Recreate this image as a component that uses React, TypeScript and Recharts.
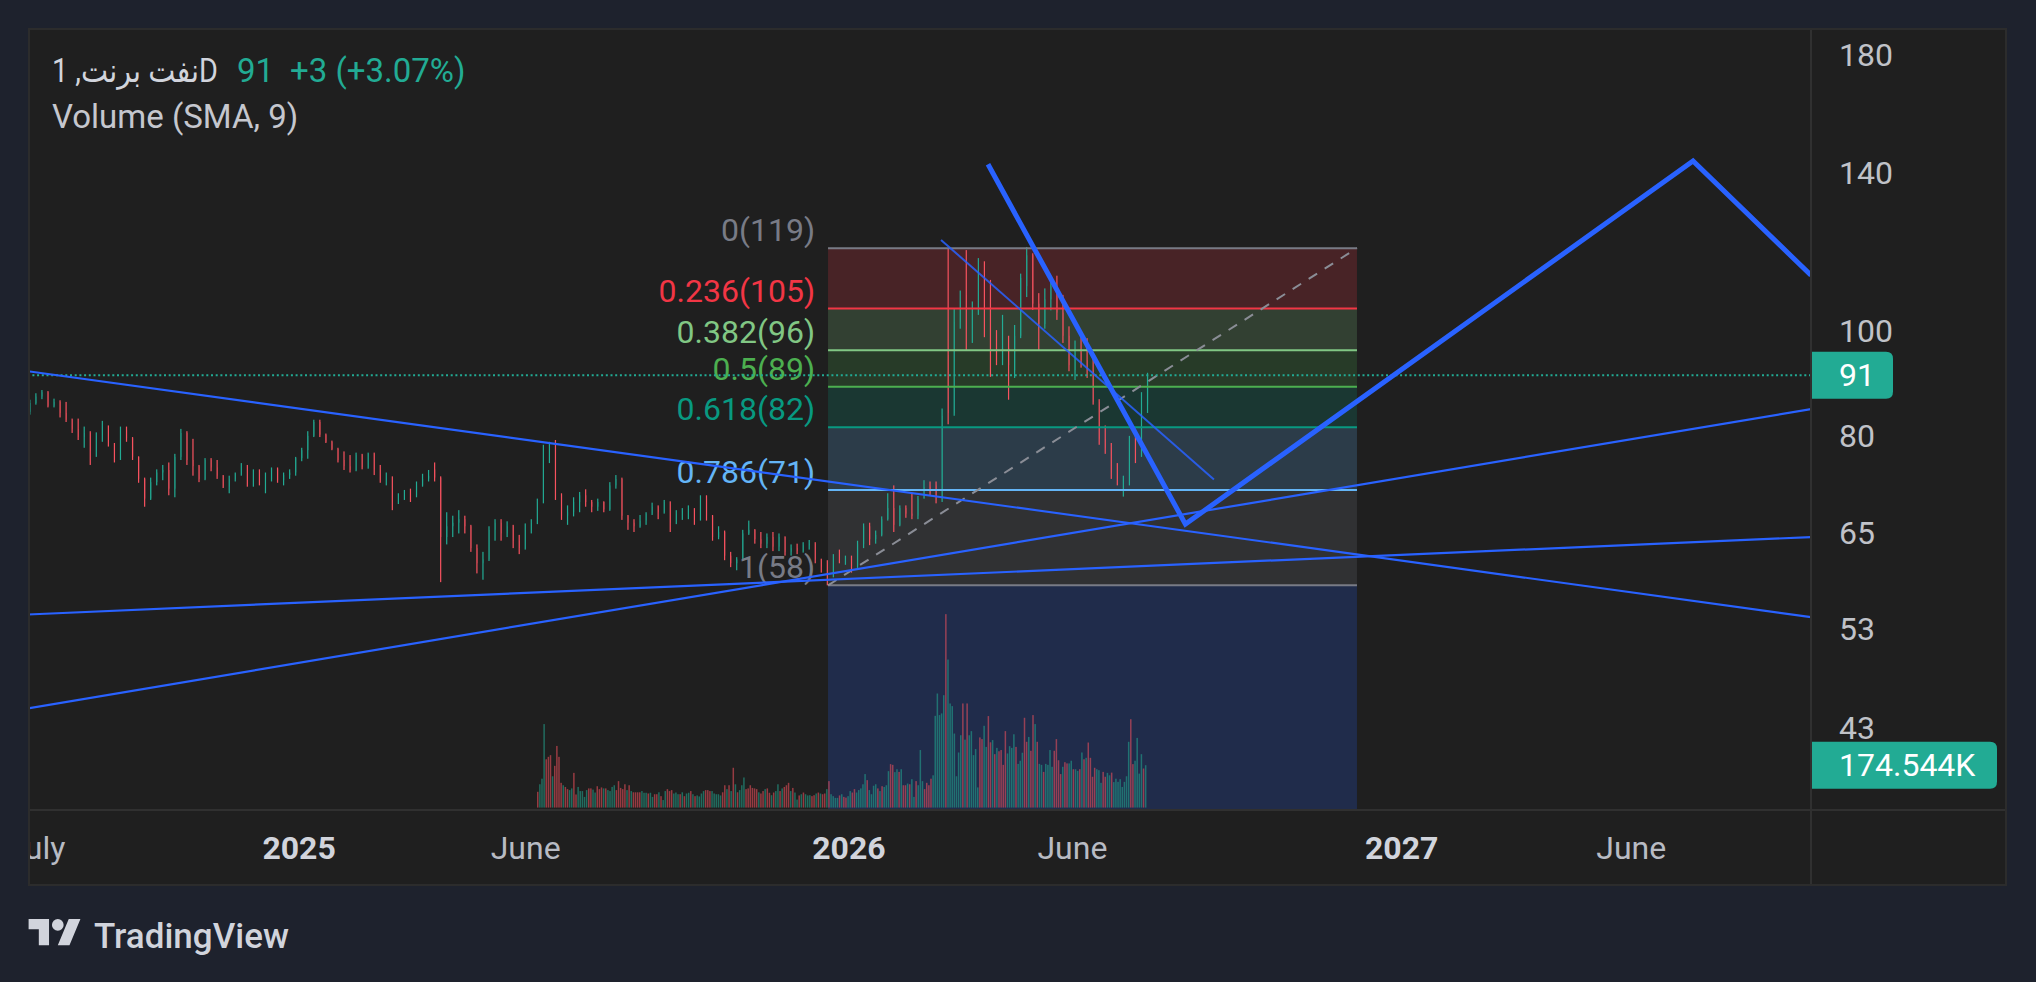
import React from 'react'
import { ComposedChart, Bar, Line, XAxis, YAxis, CartesianGrid, ReferenceArea, ReferenceLine } from 'recharts'

// x values are days counted from 1 Jan 2025
const candleStart = -178
const candleStep = 4

const opens = [
  84.2, 85.8, 87.0, 87.8, 85.3, 86.0, 84.0, 82.8, 81.2, 79.8,
  80.5, 77.5, 80.0, 81.5, 78.6, 76.2, 81.0, 79.6, 76.5, 73.0,
  70.0, 72.5, 74.0, 74.4, 71.5, 76.5, 80.5, 76.0, 75.0, 73.0,
  76.0, 74.8, 73.5, 71.8, 73.0, 73.8, 75.0, 72.2, 74.0, 72.4,
  73.0, 74.6, 72.8, 73.6, 74.0, 76.3, 77.6, 80.0, 82.4, 80.2,
  79.0, 77.8, 76.0, 75.0, 74.4, 76.8, 74.8, 77.0, 74.5, 72.8,
  73.2, 69.5, 70.6, 71.0, 70.5, 72.0, 73.0, 74.5, 73.2, 64.5,
  66.0, 66.5, 67.0, 66.0, 63.0, 61.0, 61.5, 65.5, 66.5, 65.0,
  66.0, 64.0, 63.0, 65.5, 66.5, 69.5, 76.5, 77.0, 70.5, 67.5,
  68.0, 69.5, 70.5, 69.5, 68.8, 69.5, 68.4, 72.0, 73.0, 67.5,
  66.5, 66.0, 66.8, 67.8, 68.8, 68.0, 69.5, 66.5, 67.8, 68.2,
  68.5, 67.0, 70.0, 67.5, 64.5, 65.2, 62.0, 61.0, 61.5, 65.0,
  65.5, 64.2, 63.6, 64.5, 63.2, 64.5, 62.5, 63.0, 62.6, 63.4,
  63.6, 61.5, 61.0, 59.3, 61.8, 61.3, 61.6, 60.6, 63.5, 66.0,
  64.2, 64.8, 67.0, 68.6, 66.2, 68.6, 67.8, 67.5, 70.0, 71.8,
  72.0, 70.0, 95.0, 84.0, 102.0, 108.0, 100.5, 104.0, 115.0, 108.0,
  96.0, 94.0, 96.5, 92.0, 99.0, 110.0, 117.5, 106.0, 101.5, 107.0,
  110.0, 104.0, 99.0, 92.0, 95.5, 94.0, 92.0, 86.0, 79.5, 78.0,
  74.0, 71.5, 72.6, 79.5, 77.0, 85.5,
]

const highs = [
  86.4, 87.6, 88.2, 88.0, 86.6, 86.3, 86.0, 83.0, 83.0, 81.6,
  80.8, 80.6, 82.6, 81.8, 78.8, 81.6, 81.6, 79.8, 76.6, 73.2,
  73.2, 74.5, 75.2, 75.6, 77.0, 81.2, 80.8, 79.5, 75.2, 76.3,
  76.3, 76.0, 73.6, 73.5, 74.0, 75.5, 75.2, 74.5, 74.5, 74.0,
  74.8, 74.8, 74.0, 74.5, 76.5, 78.0, 80.8, 82.8, 82.8, 80.4,
  79.2, 78.0, 77.4, 76.8, 77.2, 77.0, 77.2, 77.2, 75.2, 74.0,
  73.4, 70.8, 71.3, 71.5, 72.6, 73.8, 74.4, 75.6, 73.4, 68.0,
  67.5, 68.3, 67.5, 66.2, 63.5, 62.5, 66.0, 67.0, 67.0, 66.7,
  66.2, 64.8, 66.4, 67.0, 70.0, 78.5, 79.0, 79.3, 70.8, 69.0,
  70.2, 71.0, 71.4, 69.8, 70.0, 69.6, 72.5, 73.6, 73.2, 67.6,
  67.0, 67.6, 68.0, 69.4, 69.0, 69.8, 69.6, 68.3, 68.6, 69.0,
  68.6, 70.5, 70.5, 67.6, 66.0, 65.4, 62.5, 61.8, 65.5, 66.8,
  65.6, 65.2, 65.0, 65.2, 65.0, 64.6, 63.5, 63.6, 63.8, 64.1,
  63.8, 61.6, 61.4, 62.2, 62.8, 62.0, 62.0, 64.0, 66.4, 66.5,
  65.4, 67.4, 70.8, 72.0, 69.0, 69.0, 70.8, 70.4, 72.8, 72.6,
  72.6, 84.8, 119.3, 105.0, 109.0, 118.8, 106.5, 116.8, 116.0, 111.5,
  100.2, 103.5, 99.0, 101.3, 113.0, 119.6, 118.0, 108.4, 109.5, 111.0,
  112.5, 108.0, 101.0, 98.0, 99.0, 98.5, 95.0, 86.5, 81.8, 78.8,
  75.5, 73.5, 80.0, 81.2, 87.8, 91.5,
]

const lows = [
  83.7, 85.5, 86.5, 85.0, 85.0, 83.2, 82.4, 80.5, 79.3, 78.0,
  75.2, 76.5, 79.0, 78.2, 75.6, 76.0, 79.0, 76.0, 72.4, 68.8,
  69.8, 72.0, 72.8, 70.5, 70.2, 76.0, 75.2, 73.5, 72.5, 72.8,
  74.2, 73.0, 71.6, 70.8, 72.6, 73.5, 71.8, 71.8, 72.0, 70.8,
  72.6, 72.4, 72.0, 73.0, 73.5, 75.8, 76.2, 79.8, 79.8, 78.8,
  77.6, 75.6, 74.4, 74.0, 74.2, 74.5, 74.6, 73.6, 72.4, 72.0,
  68.3, 69.2, 69.8, 69.5, 70.2, 71.8, 72.6, 72.6, 58.6, 63.5,
  64.5, 65.0, 65.0, 62.5, 59.7, 58.9, 61.3, 64.0, 64.0, 64.5,
  63.0, 62.2, 62.8, 65.0, 66.3, 69.3, 75.5, 69.8, 66.9, 66.2,
  67.4, 68.0, 68.8, 68.0, 68.2, 68.0, 68.2, 71.5, 66.9, 65.5,
  65.2, 65.8, 66.2, 67.6, 67.0, 67.8, 65.2, 66.3, 66.9, 67.0,
  66.2, 66.8, 66.8, 64.0, 64.2, 61.4, 60.5, 60.1, 61.3, 64.8,
  63.6, 63.0, 63.0, 62.6, 62.6, 62.0, 62.0, 62.2, 62.4, 62.8,
  61.0, 59.8, 58.2, 59.2, 61.0, 60.8, 59.8, 60.4, 63.0, 63.4,
  63.6, 64.6, 66.8, 65.2, 66.0, 67.2, 67.0, 67.0, 70.0, 70.5,
  69.3, 69.5, 82.0, 83.5, 100.5, 96.0, 97.5, 103.5, 98.7, 90.7,
  93.0, 93.0, 86.4, 90.5, 98.5, 107.5, 104.6, 96.0, 100.5, 104.5,
  102.4, 97.5, 91.8, 90.1, 92.5, 90.5, 85.5, 78.5, 77.0, 73.0,
  72.0, 70.3, 72.0, 75.5, 76.5, 84.0,
]

const closes = [
  85.8, 87.0, 87.8, 85.3, 86.0, 84.0, 82.8, 81.2, 79.8, 80.5,
  77.5, 80.0, 81.5, 78.6, 76.2, 81.0, 79.6, 76.5, 73.0, 70.0,
  72.5, 74.0, 74.4, 71.5, 76.5, 80.5, 76.0, 75.0, 73.0, 76.0,
  74.8, 73.5, 71.8, 73.0, 73.8, 75.0, 72.2, 74.0, 72.4, 73.0,
  74.6, 72.8, 73.6, 74.0, 76.3, 77.6, 80.0, 82.4, 80.2, 79.0,
  77.8, 76.0, 75.0, 74.4, 76.8, 74.8, 77.0, 74.5, 72.8, 73.2,
  69.5, 70.6, 71.0, 70.5, 72.0, 73.0, 73.5, 73.2, 64.5, 66.0,
  66.5, 67.0, 66.0, 63.0, 61.0, 61.5, 65.5, 66.5, 65.0, 66.0,
  64.0, 63.0, 65.5, 66.5, 69.5, 76.5, 77.0, 70.5, 67.5, 68.0,
  69.5, 70.5, 69.5, 68.8, 69.5, 68.4, 72.0, 73.0, 67.5, 66.5,
  66.0, 66.8, 67.8, 68.8, 68.0, 69.5, 66.5, 67.8, 68.2, 68.5,
  67.0, 70.0, 67.5, 64.5, 65.2, 62.0, 61.0, 61.5, 65.0, 65.5,
  64.2, 63.6, 64.5, 63.2, 64.5, 62.5, 63.0, 62.6, 63.4, 63.6,
  61.5, 60.5, 59.3, 61.8, 61.3, 61.6, 60.6, 63.5, 66.0, 64.2,
  64.8, 67.0, 68.6, 66.2, 68.6, 67.8, 67.5, 70.0, 71.8, 70.8,
  70.0, 83.5, 84.0, 102.0, 106.5, 100.5, 104.0, 115.0, 103.0, 92.5,
  94.0, 96.5, 93.0, 99.0, 112.0, 117.5, 106.0, 101.5, 107.0, 110.0,
  104.0, 99.0, 93.0, 95.5, 94.0, 92.0, 86.0, 79.5, 78.0, 74.0,
  73.0, 72.6, 79.5, 77.0, 85.5, 91.0,
]

// volume (thousands) runs from mid June 2025 to the last bar
const volumeStart = 158.2
const volumeEnd = 560.7
const volumes = [
  65, 96, 119, 344, 199, 209, 216, 129, 172, 254,
  209, 102, 92, 85, 76, 72, 79, 143, 54, 85,
  68, 68, 44, 72, 79, 79, 74, 62, 88, 76,
  83, 79, 79, 72, 68, 85, 92, 72, 109, 81,
  76, 96, 72, 92, 68, 63, 63, 63, 63, 68,
  61, 61, 58, 61, 44, 55, 55, 63, 47, 31,
  68, 76, 68, 72, 58, 62, 55, 55, 63, 47,
  58, 61, 68, 55, 47, 50, 46, 58, 68, 72,
  72, 68, 68, 58, 55, 55, 50, 63, 92, 76,
  92, 68, 164, 96, 63, 72, 92, 124, 76, 79,
  92, 81, 79, 76, 63, 58, 68, 76, 79, 61,
  51, 62, 68, 96, 68, 79, 85, 92, 102, 68,
  81, 62, 33, 50, 55, 62, 55, 50, 51, 47,
  51, 58, 62, 58, 55, 58, 76, 109, 55, 47,
  40, 40, 50, 55, 44, 41, 47, 68, 62, 76,
  62, 72, 79, 96, 138, 113, 72, 55, 90, 96,
  79, 68, 88, 85, 92, 150, 179, 176, 146, 158,
  147, 158, 92, 92, 99, 96, 117, 44, 109, 92,
  237, 109, 76, 102, 92, 119, 133, 378, 470, 381,
  388, 463, 797, 610, 429, 418, 305, 129, 227, 298,
  429, 280, 429, 298, 315, 216, 241, 83, 289, 282,
  337, 250, 377, 269, 278, 220, 246, 232, 237, 176,
  315, 223, 253, 246, 302, 250, 180, 193, 226, 370,
  271, 291, 234, 381, 344, 271, 180, 176, 147, 180,
  176, 237, 168, 234, 282, 195, 138, 168, 187, 182,
  182, 193, 158, 158, 151, 158, 227, 199, 205, 268,
  205, 127, 164, 158, 154, 102, 147, 127, 143, 133,
  144, 105, 119, 106, 117, 85, 106, 129, 271, 364,
  179, 193, 287, 140, 220, 161, 174.544,
]
const volumeSides =
  'duuudddudd' + 'ddudduuddu' + 'uuuudduudd' + 'duduuuuddd' + 'ddududdddu' +
  'uuduuddudu' + 'uddduuudud' + 'uududuuuud' + 'dduuuuuddu' + 'dududuuudd' +
  'dddduddudd' + 'uduududddu' + 'duududuuud' + 'dududduduu' + 'uududduudd' +
  'uuuuuduuuu' + 'duduuudduu' + 'dudduduudu' + 'uudddduuuu' + 'uuduuuuuuu' +
  'duduuuuudd' + 'uuddududdd' + 'duuuuduuud' + 'dudduduudu' + 'uuuddddudd' +
  'uuduududud' + 'ddduuudduu' + 'duuuuuuuud' + 'duuuudu'

const timeTicks = [-174, 0, 150, 364, 512, 730, 882]
const timeLabels = ['July', '2025', 'June', '2026', 'June', '2027', 'June']
const priceTicks = [43, 53, 65, 80, 100, 140, 180]

const fibStart = 350.2
const fibEnd = 700.4
const fibRatios = ['0', '0.236', '0.382', '0.5', '0.618', '0.786', '1']
const fibPrices = [119.3, 104.9, 96.0, 88.8, 81.5, 71.3, 58.2]
const fibShown = [119, 105, 96, 89, 82, 71, 58]
const fibColors = ['#787b86', '#f23645', '#81c784', '#4caf50', '#089981', '#64b5f6', '#787b86']
const fibExtension = 20.4

const resistanceLine = [[-179.5, 91.8], [1001, 54.4]]
const supportLine = [[-179.5, 44.8], [1001, 84.7]]
const baseLine = [[-179.5, 54.7], [1001, 64.5]]
const channelLine = [[425.0, 121.4], [605.7, 72.9]]
const projectionPath = [[456.1, 142.6], [586.8, 66.3], [922.9, 143.6], [1001, 112.6]]

const lastPrice = 91
const lastVolume = 174.544

const PANEL_W = 1979
const PANEL_H = 858
const AXIS_W = 196
const AXIS_H = 76
const PLOT_W = PANEL_W - AXIS_W
const PLOT_H = PANEL_H - AXIS_H

const UP = '#22ab94'
const DOWN = '#f7525f'
const BLUE = '#2962ff'
const FONT = 'Roboto, "DejaVu Sans", sans-serif'
const NO_MARGIN = { top: 0, right: 0, bottom: 0, left: 0 }

const xDomain: [number, number] = [-179.5, 1001]
const priceDomain: [number, number] = [36.08, 190.6]
const volumeDomain: [number, number] = [-10, 3212]

const candles = closes.map((c, i) => ({
  x: candleStart + i * candleStep,
  o: opens[i],
  h: highs[i],
  l: lows[i],
  c,
}))

const volumeStep = (volumeEnd - volumeStart) / (volumes.length - 1)
const volumeData = volumes.map((v, i) => ({
  x: volumeStart + i * volumeStep,
  v,
  up: volumeSides[i] === 'u',
}))

const toPoints = (pts: number[][]) => pts.map(([x, p]) => ({ x, p }))

const rightRounded = (x: number, y: number, w: number, h: number, r: number) =>
  `M${x},${y} H${x + w - r} Q${x + w},${y} ${x + w},${y + r} V${y + h - r} Q${x + w},${y + h} ${x + w - r},${y + h} H${x} Z`

function CandleRect(props: any) {
  const { x, y, width, height, payload } = props
  if (x == null || y == null) return null
  const top = Math.min(y, y + height)
  const h = Math.max(Math.abs(height), 1)
  return <rect x={x} y={top} width={width} height={h} fill={payload.c >= payload.o ? UP : DOWN} />
}

function VolumeRect(props: any) {
  const { x, y, width, height, payload } = props
  if (x == null || y == null) return null
  const top = Math.min(y, y + height)
  return (
    <rect x={x} y={top} width={width} height={Math.abs(height)}
      fill={payload.up ? UP : DOWN} fillOpacity={0.55} />
  )
}

function TimeTick(props: any) {
  const label = timeLabels[timeTicks.indexOf(props.payload.value)]
  const isYear = /^\d{4}$/.test(label)
  return (
    <text x={props.x} y={PLOT_H + 38} textAnchor="middle" dominantBaseline="central"
      fontSize={32} fontFamily={FONT} fontWeight={isYear ? 700 : 400}
      fill={isYear ? '#d1d4dc' : '#b8bbc3'}>
      {label}
    </text>
  )
}

function PriceTick(props: any) {
  return (
    <text x={PLOT_W + 28} y={props.y} dominantBaseline="central" fontSize={32}
      fontFamily={FONT} fill="#c0c2c8">
      {props.payload.value}
    </text>
  )
}

const fibLabel = (text: string, color: string) => (props: any) => {
  const vb = props.viewBox
  return (
    <text x={vb.x - 13} y={vb.y - 7} textAnchor="end" fontSize={32} fontFamily={FONT} fill={color}>
      {text}
    </text>
  )
}

const axisBadge = (text: string, boxWidth: number) => (props: any) => {
  const vb = props.viewBox
  const x = vb.x + vb.width
  return (
    <g>
      <path d={rightRounded(x, vb.y - 23.5, boxWidth, 47, 7)} fill={UP} />
      <text x={x + 28} y={vb.y} dominantBaseline="central" fontSize={32} fontFamily={FONT} fill="#ffffff">
        {text}
      </text>
    </g>
  )
}

function BackLayer() {
  return (
    <ComposedChart width={PANEL_W} height={PANEL_H} data={volumeData} margin={NO_MARGIN} accessibilityLayer={false}>
      <CartesianGrid stroke="#2a2a2a" strokeWidth={1.6} />
      <XAxis dataKey="x" type="number" domain={xDomain} allowDataOverflow ticks={timeTicks} interval={0}
        height={AXIS_H} tick={false} axisLine={false} tickLine={false} />
      <YAxis orientation="right" scale="log" domain={priceDomain} allowDataOverflow ticks={priceTicks}
        interval={0} width={AXIS_W} tick={false} axisLine={false} tickLine={false} />
      <YAxis yAxisId="vol" domain={volumeDomain} allowDataOverflow hide />
      {fibPrices.slice(0, -1).map((p, i) => (
        <ReferenceArea key={i} x1={fibStart} x2={fibEnd} y1={fibPrices[i + 1]} y2={p}
          fill={fibColors[i + 1]} fillOpacity={0.2} stroke="none" />
      ))}
      <ReferenceArea x1={fibStart} x2={fibEnd} y1={fibExtension} y2={fibPrices[6]}
        fill={BLUE} fillOpacity={0.2} stroke="none" ifOverflow="hidden" />
      <Bar yAxisId="vol" dataKey="v" barSize={1.5} shape={VolumeRect} isAnimationActive={false} />
      <ReferenceLine yAxisId="vol" y={lastVolume} stroke="none"
        label={axisBadge(`${lastVolume}K`, 186)} />
    </ComposedChart>
  )
}

function FrontLayer() {
  return (
    <ComposedChart width={PANEL_W} height={PANEL_H} data={candles} margin={NO_MARGIN} accessibilityLayer={false}>
      <XAxis dataKey="x" type="number" domain={xDomain} allowDataOverflow ticks={timeTicks} interval={0}
        height={AXIS_H} axisLine={false} tickLine={false} tick={<TimeTick />} />
      <XAxis xAxisId="wick" dataKey="x" type="number" domain={xDomain} allowDataOverflow hide />
      <YAxis orientation="right" scale="log" domain={priceDomain} allowDataOverflow ticks={priceTicks}
        interval={0} width={AXIS_W} axisLine={false} tickLine={false} tick={<PriceTick />} />
      <Bar xAxisId="wick" dataKey={(d: any) => [d.l, d.h]} barSize={1.2} shape={CandleRect}
        isAnimationActive={false} />
      <Bar dataKey={(d: any) => [Math.min(d.o, d.c), Math.max(d.o, d.c)]} barSize={4} shape={CandleRect}
        isAnimationActive={false} />
      {fibPrices.map((p, i) => (
        <ReferenceLine key={i} segment={[{ x: fibStart, y: p }, { x: fibEnd, y: p }]}
          stroke={fibColors[i]} strokeWidth={2}
          label={fibLabel(`${fibRatios[i]}(${fibShown[i]})`, fibColors[i])} />
      ))}
      <Line data={toPoints([[fibStart, fibPrices[6]], [fibEnd, fibPrices[0]]])} dataKey="p" stroke="#8a8d96"
        strokeWidth={2} strokeDasharray="10 9" dot={false} activeDot={false} isAnimationActive={false} />
      <ReferenceLine y={lastPrice} stroke={UP} strokeWidth={2} strokeDasharray="2 2.7"
        label={axisBadge(String(lastPrice), 82)} />
      <Line data={toPoints(resistanceLine)} dataKey="p" stroke={BLUE} strokeWidth={2.2} dot={false}
        activeDot={false} isAnimationActive={false} />
      <Line data={toPoints(supportLine)} dataKey="p" stroke={BLUE} strokeWidth={2.2} dot={false}
        activeDot={false} isAnimationActive={false} />
      <Line data={toPoints(baseLine)} dataKey="p" stroke={BLUE} strokeWidth={2.2} dot={false}
        activeDot={false} isAnimationActive={false} />
      <Line data={toPoints(channelLine)} dataKey="p" stroke={BLUE} strokeOpacity={0.85} strokeWidth={2}
        dot={false} activeDot={false} isAnimationActive={false} />
      <Line data={toPoints(projectionPath)} dataKey="p" stroke={BLUE} strokeWidth={5} dot={false}
        activeDot={false} isAnimationActive={false} />
    </ComposedChart>
  )
}

export default function App() {
  const layer: React.CSSProperties = { position: 'absolute', left: 0, top: 0 }
  return (
    <div style={{ position: 'absolute', left: 0, top: 0, width: 2036, height: 982, background: '#1e222d', overflow: 'hidden' }}>
      <div style={{ position: 'absolute', left: 28, top: 28, width: PANEL_W, height: PANEL_H, background: '#1f1f1f', overflow: 'hidden' }}>
        <div style={layer}><BackLayer /></div>
        <div style={layer}><FrontLayer /></div>
        <div style={{ position: 'absolute', left: PLOT_W - 1, top: 0, width: 2, height: PANEL_H, background: '#303030' }} />
        <div style={{ position: 'absolute', left: 0, top: PLOT_H - 1, width: PANEL_W, height: 2, background: '#303030' }} />
        <svg style={{ ...layer, pointerEvents: 'none' }} width={PANEL_W} height={140}>
          <text x={24} y={54} fontSize={33} fontFamily={FONT} fill="#d1d4dc"
            textLength={166} lengthAdjust="spacingAndGlyphs">
            نفت برنت, 1D
          </text>
          <text x={209} y={54} fontSize={33} fontFamily={FONT} fill={UP}>91</text>
          <text x={262} y={54} fontSize={33} fontFamily={FONT} fill={UP}>+3 (+3.07%)</text>
          <text x={24} y={100} fontSize={33} fontFamily={FONT} fill="#c5c7ce">Volume (SMA, 9)</text>
        </svg>
      </div>
      <div style={{ position: 'absolute', left: 28, top: 28, width: PANEL_W - 4, height: PANEL_H - 4, border: '2px solid #2c2c2c', pointerEvents: 'none' }} />
      <svg style={layer} width={2036} height={982}>
        <g transform="translate(28.6 913.2) scale(1.46)" fill="#d1d4dc">
          <path d="M14 22H7V11H0V4h14v18zM28 22h-8l7.5-18h8L28 22z" />
          <circle cx={20} cy={8} r={4} />
        </g>
        <text x={94} y={948} fontSize={35} fontWeight={500} fontFamily={FONT} fill="#d1d4dc">TradingView</text>
      </svg>
    </div>
  )
}
